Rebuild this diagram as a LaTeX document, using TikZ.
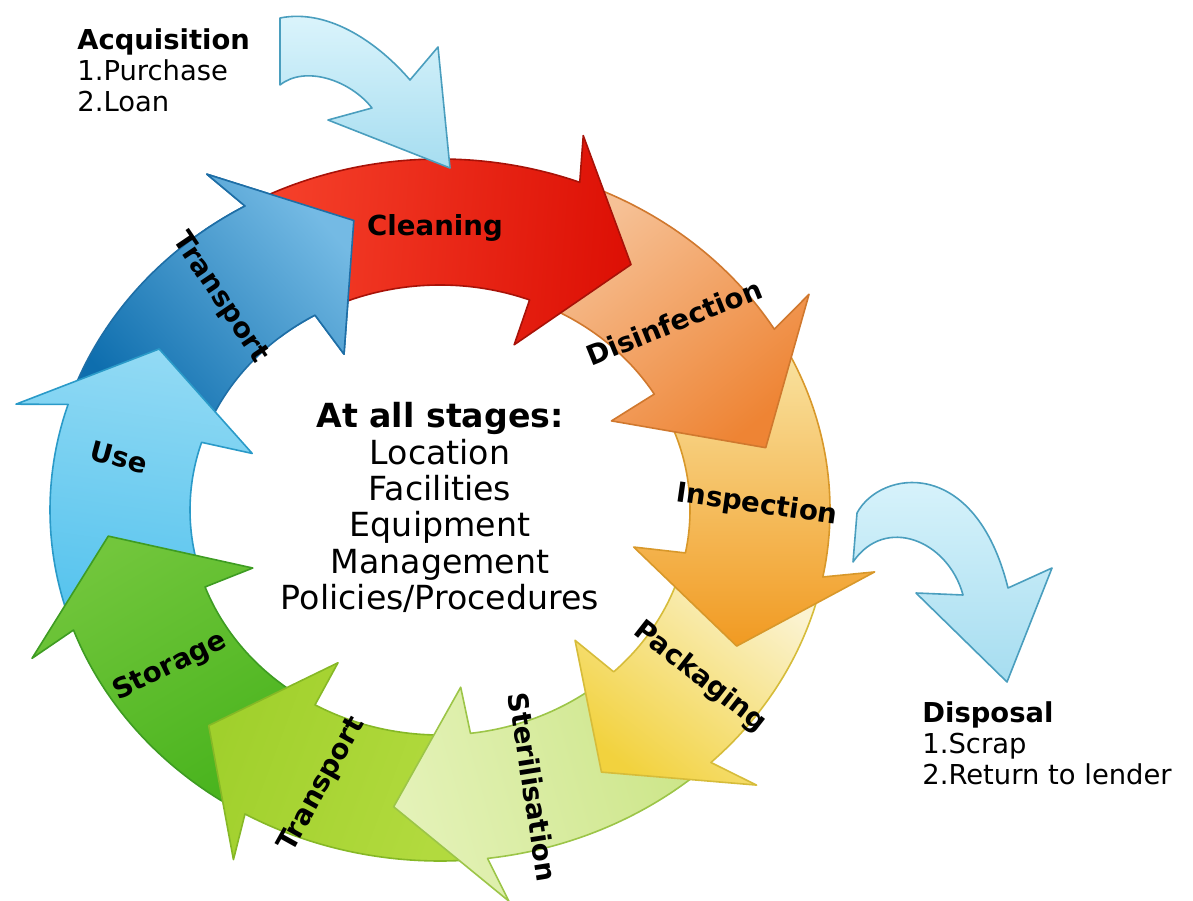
\documentclass[tikz,border=0pt]{standalone}
\usepackage{fontspec}
\setmainfont{DejaVu Sans}

\definecolor{clnA}{HTML}{F5402A}
\definecolor{clnB}{HTML}{DD1005}
\definecolor{clnL}{HTML}{A81208}
\definecolor{disA}{HTML}{F6C196}
\definecolor{disB}{HTML}{EE8434}
\definecolor{disL}{HTML}{D0782E}
\definecolor{insA}{HTML}{F9E3A0}
\definecolor{insB}{HTML}{F19A22}
\definecolor{insL}{HTML}{D8982A}
\definecolor{pacA}{HTML}{FBF3D2}
\definecolor{pacB}{HTML}{F2D23E}
\definecolor{pacL}{HTML}{D6BC3A}
\definecolor{steA}{HTML}{CDE68A}
\definecolor{steB}{HTML}{E4F2B8}
\definecolor{steL}{HTML}{9CC548}
\definecolor{trgA}{HTML}{B2DA3E}
\definecolor{trgB}{HTML}{A0D02C}
\definecolor{trgL}{HTML}{86B826}
\definecolor{stoA}{HTML}{4AB41E}
\definecolor{stoB}{HTML}{72C63C}
\definecolor{stoL}{HTML}{3E9C22}
\definecolor{useA}{HTML}{58C4EE}
\definecolor{useB}{HTML}{92DAF4}
\definecolor{useL}{HTML}{2A9AC8}
\definecolor{trbA}{HTML}{0E6EAE}
\definecolor{trbB}{HTML}{74BAE4}
\definecolor{trbL}{HTML}{1E6EA6}
\definecolor{sideA}{HTML}{DDF5FC}
\definecolor{sideB}{HTML}{A6DDF0}
\definecolor{sideL}{HTML}{4A9EBE}

\tikzset{
    ring/.style={line width=0.8pt, line join=round},
    stagetext/.style={font=\bfseries\fontsize{13.8}{16}\selectfont, inner sep=0pt},
    sidetext/.style={font=\fontsize{13.7}{15.5}\selectfont, align=left, inner sep=0pt},
    sidearrow/.style={draw=sideL, line width=0.8pt, line join=round, top color=sideA, bottom color=sideB}
}

\begin{document}
\begin{tikzpicture}[x=0.5pt, y=0.5pt]

            \useasboundingbox (0,0) rectangle (1193,900);

            \def\Ro{390}
            \def\Ri{250}
            \def\Rb{440}
            \def\Rc{198}
            \def\Rt{333}

            % ring of arrows, drawn backwards so each head lies on the next tail
            \begin{scope}[shift={(440,390)}, yscale=0.9]
            \foreach \aT/\aB/\aP/\ca/\cb/\cl in {
                -201.5/-240/-255/trbA/trbB/trbL,
                -164/-197.5/-212.5/useA/useB/useL,
                -124/-160/-175/stoA/stoB/stoL,
                -87/-120/-134/trgA/trgB/trgL,
                -50/-83/-98/steA/steB/steL,
                -15/-46/-61/pacA/pacB/pacL,
                27/-11/-27/insA/insB/insL,
                65/31/12/disA/disB/disL,
                116/69/55/clnA/clnB/clnL}
            {
                \pgfmathsetmacro\sa{(\aT+\aP)/2}
                \draw[ring, draw=\cl, top color=\ca, bottom color=\cb, shading angle=\sa]
                (\aT:\Ro) arc[start angle=\aT, end angle=\aB, radius=\Ro]
                -- (\aB+2:\Rb) -- (\aP:\Rt) -- (\aB-1:\Rc) -- (\aB:\Ri)
                arc[start angle=\aB, end angle=\aT, radius=\Ri] -- cycle;
            }
            \end{scope}

            % head of the upper transport arrow again, over the cleaning tail
            \begin{scope}[shift={(440,390)}, yscale=0.9]
            \clip (0,0) -- (95:480) arc[start angle=95, end angle=130, radius=480] -- cycle;
            \pgfmathsetmacro\sa{(-201.5-255)/2}
            \draw[ring, draw=trbL, top color=trbA, bottom color=trbB, shading angle=\sa]
            (-201.5:\Ro) arc[start angle=-201.5, end angle=-240, radius=\Ro]
            -- (-238:\Rb) -- (-255:\Rt) -- (-241:\Rc) -- (-240:\Ri)
            arc[start angle=-240, end angle=-201.5, radius=\Ri] -- cycle;
            \end{scope}

            % in and out arrows
            \draw[sidearrow] (280,882) .. controls (330,892) and (380,855) .. (410,820)
            -- (438,853) -- (450,732) -- (328,780) -- (372,792)
            .. controls (350,820) and (305,835) .. (280,815) -- cycle;
            \draw[sidearrow] (857,387) .. controls (880,430) and (975,445) .. (1008,312)
            -- (1052,332) -- (1007,218) -- (916,307) -- (963,305)
            .. controls (948,360) and (885,385) .. (853,338) -- cycle;

            % labels
            \node[stagetext] (lbClean) at (435,672) {Cleaning};
            \node[stagetext, rotate=22] (lbDisinf) at (674,578) {Disinfection};
            \node[stagetext, rotate=-8] (lbInsp) at (757,395) {Inspection};
            \node[stagetext, rotate=-38] (lbPack) at (700,223) {Packaging};
            \node[stagetext, rotate=-81] (lbSter) at (533,113) {Sterilisation};
            \node[stagetext, rotate=61] (lbTransLow) at (322,115) {Transport};
            \node[stagetext, rotate=26] (lbStore) at (170,233) {Storage};
            \node[stagetext, rotate=-15] (lbUse) at (119,443) {Use};
            \node[stagetext, rotate=-56] (lbTransTop) at (220,602) {Transport};

            \node[font=\fontsize{16.6}{18.2}\selectfont, align=center, inner sep=0pt, anchor=north] (allStages) at (440,498)
            {\textbf{At all stages:}\\ Location\\ Facilities\\ Equipment\\ Management\\ Policies/Procedures};

            \node[sidetext, anchor=north west] (acquire) at (77,872) {\textbf{Acquisition}\\1.Purchase\\2.Loan};
            \node[sidetext, anchor=north west] (dispose) at (922,199) {\textbf{Disposal}\\1.Scrap\\2.Return to lender};
        \end{tikzpicture}
\end{document}
